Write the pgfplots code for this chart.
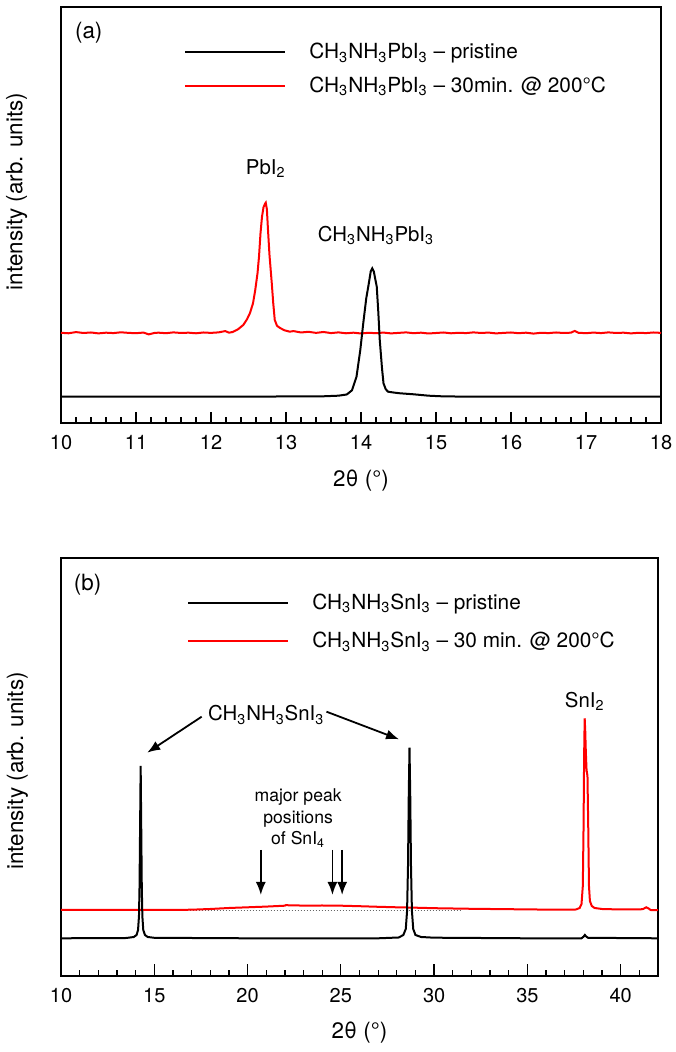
\documentclass[border=0pt]{standalone}
\usepackage{fontspec}
\setmainfont{TeX Gyre Heros}
\usepackage{pgfplots}
\pgfplotsset{compat=1.18}
\usetikzlibrary{arrows.meta}
\newcommand{\s}[1]{\textsubscript{#1}}
\pgfplotsset{
  xrdstyle/.style={
    scale only axis,
    axis line style={line width=0.85pt},
    ytick=\empty,
    xtick pos=bottom,
    tick align=inside,
    major tick length=5.8pt,
    minor tick length=3.2pt,
    tick style={line width=0.65pt, black},
    /pgf/number format/assume math mode=true,
    xticklabel style={font=\fontsize{10}{12}\selectfont, yshift=-2.4pt},
    label style={font=\fontsize{11.2}{13}\selectfont},
    xlabel style={at={(axis description cs:0.5,0)}, anchor=center, yshift=-28.4pt},
    legend cell align=left,
    reverse legend,
    legend image code/.code={\draw[#1] (0pt,0pt) -- (50pt,0pt);},
    clip=false,
  }
}
\begin{document}
\begin{tikzpicture}
\path[use as bounding box] (0pt,0pt) rectangle (337.5pt,526pt);
% ---------------- (a) ----------------
\begin{axis}[xrdstyle,
  at={(30.5pt,314.35pt)}, anchor=south west,
  width=300pt, height=208.3pt,
  xmin=10, xmax=18, ymin=0, ymax=416.6,
  xtick={10,11,...,18},
  minor xtick={10,10.2,...,18},
  xlabel={2θ (°)},
  ylabel={intensity (arb. units)},
  ylabel style={at={(axis description cs:-0.0738,0.556)}, anchor=center},
  legend style={draw=none, fill=none, at={(axis description cs:0,1)}, anchor=north west,
    xshift=58.5pt, yshift=-14pt, font=\fontsize{10.4}{12.5}\selectfont, row sep=3.5pt,
    /tikz/every odd column/.append style={column sep=9.5pt}},
]
\addplot[red, line width=1pt] coordinates {
(10.0,90.5) (10.1,90.0) (10.2,91.2) (10.3,90.3) (10.4,90.8) (10.5,89.9) (10.6,90.6) (10.7,90.2)
(10.8,91.0) (10.9,90.4) (11.0,90.1) (11.1,90.7) (11.17,88.9) (11.25,90.4) (11.3,90.6) (11.4,90.1)
(11.5,90.9) (11.6,90.3) (11.7,90.6) (11.8,90.0) (11.9,90.8) (12.0,90.4) (12.1,90.9) (12.19,92.2)
(12.24,90.6) (12.29,91.3) (12.36,94) (12.43,98.3) (12.48,104) (12.52,110.3) (12.56,120)
(12.59,133.3) (12.62,150) (12.64,166.6) (12.66,190) (12.68,206.6) (12.70,216) (12.72,219.5) (12.73,220.6)
(12.745,214) (12.76,193.3) (12.78,168) (12.81,140.3) (12.83,120) (12.85,103.3) (12.88,97.5)
(12.92,95.3) (12.98,93) (13.05,91.6) (13.1,92.2) (13.2,90.8) (13.3,91.5) (13.4,90.4) (13.5,91.3)
(13.6,90.2) (13.7,90.9) (13.8,90.0) (13.9,90.6) (14.0,89.8) (14.1,90.5) (14.2,90.1) (14.3,90.7)
(14.4,89.9) (14.5,90.4) (14.6,90.9) (14.7,90.1) (14.8,90.6) (14.9,89.8) (15.0,90.3) (15.1,90.8)
(15.2,90.0) (15.3,90.5) (15.4,90.2) (15.5,90.9) (15.6,90.3) (15.7,90.7) (15.8,89.9) (15.9,90.4)
(16.0,90.8) (16.1,90.1) (16.2,90.6) (16.3,89.7) (16.4,90.5) (16.5,90.2) (16.6,90.8) (16.7,90.3)
(16.8,90.6) (16.85,92.4) (16.9,90.5) (17.0,90.1) (17.1,90.7) (17.2,90.2) (17.3,90.9) (17.4,90.3)
(17.5,90.6) (17.6,89.9) (17.7,90.5) (17.8,90.2) (17.9,90.8) (18.0,90.4)
};
\addlegendentry{CH\s{3}NH\s{3}PbI\s{3} – 30min. @ 200°C}
\addplot[black, line width=1pt] coordinates {
(10,26.6) (11,26.6) (12,26.7) (13,26.8) (13.5,27.0) (13.7,27.6) (13.81,28.8) (13.88,33)
(13.94,46.6) (13.99,73) (14.03,100) (14.07,125) (14.10,138) (14.13,152) (14.15,155)
(14.17,152) (14.21,136.6) (14.23,112) (14.25,83.3) (14.28,55) (14.30,40) (14.33,34)
(14.36,31.6) (14.45,30.6) (14.52,30) (14.7,29) (14.9,27.6) (15.1,26.9) (15.5,26.6)
(16,26.6) (17,26.6) (18,26.6)
};
\addlegendentry{CH\s{3}NH\s{3}PbI\s{3} – pristine}
\node[font=\fontsize{11.2}{13}\selectfont] at (axis cs:10.37,390.3) {(a)};
\node[font=\fontsize{10.2}{12}\selectfont] at (axis cs:12.73,255) {PbI\s{2}};
\node[font=\fontsize{10.2}{12}\selectfont] at (axis cs:14.20,188) {CH\s{3}NH\s{3}PbI\s{3}};
\end{axis}
% ---------------- (b) ----------------
\begin{axis}[xrdstyle,
  at={(30.5pt,38pt)}, anchor=south west,
  width=298.5pt, height=208.85pt,
  xmin=10, xmax=42, ymin=0, ymax=417.7,
  xtick={10,15,...,40},
  minor xtick={11,12,13,14,16,17,18,19,21,22,23,24,26,27,28,29,31,32,33,34,36,37,38,39,41},
  xlabel={2θ (°)},
  ylabel={intensity (arb. units)},
  ylabel style={at={(axis description cs:-0.073,0.491)}, anchor=center},
  legend style={draw=none, fill=none, at={(axis description cs:0,1)}, anchor=north west,
    xshift=60pt, yshift=-13.5pt, font=\fontsize{10.4}{12.5}\selectfont, row sep=6pt,
    /tikz/every odd column/.append style={column sep=9.5pt}},
]
\addplot[densely dotted, black!60, line width=0.5pt, forget plot] coordinates {(16.9,65.6) (31.5,65.6)};
\addplot[red, line width=1pt] coordinates {
(10,66) (12,66) (14,66) (16,66) (17,66.3) (18,67) (19,68) (20,68.7) (21,69.4) (22,70.3)
(22.05,70.8) (23,70.4) (24,70.5) (25,70.3) (26,69.8) (27,69.2) (28,68.7) (29,68.3) (30,67.8)
(31,67.5) (32,67.2) (33,67) (34,66.8) (35,66.6) (36,66.4) (37,66.3) (37.6,66.5) (37.8,68)
(37.9,72) (37.97,90) (38.01,150) (38.04,220) (38.07,257.7) (38.10,245) (38.13,225)
(38.17,206) (38.22,200) (38.26,150) (38.30,90) (38.35,75) (38.45,70) (38.6,68) (39,67)
(40,66.5) (41,66.5) (41.2,67) (41.37,68.7) (41.5,67.5) (41.6,66) (42,65.8)
};
\addlegendentry{CH\s{3}NH\s{3}SnI\s{3} – 30 min. @ 200°C}
\addplot[black, line width=1pt] coordinates {
(10,37.7) (13.5,38) (13.9,39) (14.05,41) (14.13,46) (14.18,60) (14.21,90) (14.24,150)
(14.27,210) (14.30,150) (14.33,90) (14.36,60) (14.41,46) (14.5,41) (14.65,39) (15,38.2)
(20,37.7) (27,37.7) (28.1,38.5) (28.35,41) (28.48,47) (28.55,65) (28.6,110) (28.64,180)
(28.68,228.3) (28.72,180) (28.76,110) (28.81,65) (28.88,47) (29.0,41) (29.3,39) (30,38.3)
(35,37.7) (37.9,37.7) (38.02,39.5) (38.08,41) (38.15,39.5) (38.25,38.2) (42,37.7)
};
\addlegendentry{CH\s{3}NH\s{3}SnI\s{3} – pristine}
\node[font=\fontsize{11.2}{13}\selectfont] at (axis cs:11.43,391) {(b)};
\node[font=\fontsize{10.2}{12}\selectfont] at (axis cs:38.07,274.3) {SnI\s{2}};
\node[font=\fontsize{10.2}{12}\selectfont] at (axis cs:21.0,261) {CH\s{3}NH\s{3}SnI\s{3}};
\node[font=\fontsize{8.8}{10.75}\selectfont, align=center] at (axis cs:22.71,157.7)
  {major peak\\positions\\of SnI\s{4}};
\draw[-{Latex[length=6.5pt,width=5pt]}, line width=0.9pt] (axis cs:17.54,259.3) -- (axis cs:14.62,223.3);
\draw[-{Latex[length=6.5pt,width=5pt]}, line width=0.9pt] (axis cs:24.23,264.3) -- (axis cs:28.12,236.7);
\draw[-{Latex[length=6.5pt,width=5pt]}, line width=0.9pt] (axis cs:20.71,126) -- (axis cs:20.71,81);
\draw[-{Latex[length=6.5pt,width=5pt]}, line width=0.9pt] (axis cs:24.55,126) -- (axis cs:24.55,81);
\draw[-{Latex[length=6.5pt,width=5pt]}, line width=0.9pt] (axis cs:25.07,126) -- (axis cs:25.07,81);
\end{axis}
\end{tikzpicture}
\end{document}
